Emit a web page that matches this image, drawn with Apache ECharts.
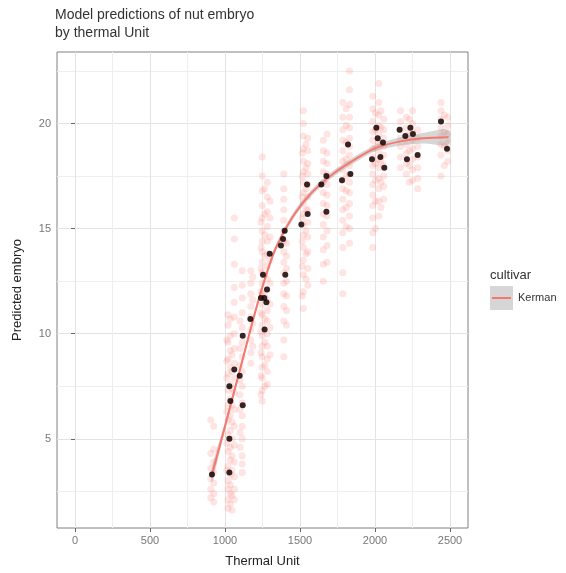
<!DOCTYPE html>
<html>
<head>
<meta charset="utf-8">
<script src="https://cdn.jsdelivr.net/npm/echarts@6/dist/echarts.min.js"></script>
<style>
  html, body { margin: 0; padding: 0; background: #fff; }
  #chart { width: 566px; height: 573px; }
</style>
</head>
<body>
<div id="chart"></div>
<script>
// tick labels
const xTicks = [0, 500, 1000, 1500, 2000, 2500]
const xMinor = [250, 750, 1250, 1750, 2250]
const yTicks = [5, 10, 15, 20]
const yMinor = [2.5, 7.5, 12.5, 17.5, 22.5]

// predicted embryo (pink points), one column per thermal unit sample
const predThermal = [905, 925, 1012, 1020, 1035, 1047, 1062, 1100, 1115, 1172, 1185, 1240, 1248, 1265,
  1282, 1300, 1392, 1410, 1515, 1522, 1540, 1552, 1655, 1680, 1785, 1808, 1830, 1985, 2003, 2025,
  2040, 2058, 2170, 2210, 2230, 2250, 2285, 2440, 2462, 2485]
const predEmbryo = [
  [2.2, 2.6, 3.1, 3.6, 4.3, 5.9],
  [2.0, 2.4, 2.9, 3.4, 3.9, 4.5, 5.6],
  [3.5, 4.8, 6.3, 7.9, 8.7, 9.7],
  [1.7, 2.1, 2.6, 3.0, 3.7, 4.4, 5.2, 5.9, 6.6, 7.3, 8.1, 8.8, 9.6, 10.4, 10.9],
  [1.9, 2.4, 2.8, 3.3, 4.0, 4.6, 5.4, 6.1, 6.9, 7.6, 8.4, 9.2, 9.9, 10.7],
  [1.6, 2.3, 3.5, 4.2, 5.0, 5.8, 6.6, 7.4, 8.2, 9.0],
  [2.1, 2.6, 3.2, 3.9, 4.7, 5.6, 6.4, 7.2, 7.9, 8.6, 9.3, 10.0, 10.8, 11.5, 12.2, 13.3, 14.5, 15.5],
  [4.6, 5.3, 6.4, 7.1, 7.8, 8.5, 9.3, 10.6],
  [3.4, 3.8, 4.2, 5.0, 5.6, 6.1, 6.7, 7.5, 8.2, 8.9, 9.6, 10.3, 11.0, 11.7, 12.3, 13.0],
  [8.6, 9.1, 9.7, 10.2, 10.8, 11.3, 11.9, 12.4, 13.0],
  [9.4, 10.5, 11.6, 12.7],
  [7.1, 8.0, 9.1, 10.1, 11.0, 12.0, 13.1, 14.1, 15.3],
  [6.8, 7.3, 7.9, 8.4, 8.9, 9.4, 9.9, 10.4, 10.9, 11.4, 11.9, 12.4, 12.9, 13.4, 13.9, 14.4, 14.9, 15.5, 16.1, 16.8, 17.5, 18.4],
  [7.5, 8.5, 9.6, 10.7, 11.8, 12.8, 13.7, 14.7, 15.7, 16.9],
  [7.6, 8.2, 8.8, 9.4, 10.0, 10.6, 11.1, 11.6, 12.1, 12.6, 13.2, 13.8, 14.4, 15.1, 15.8, 16.5, 17.2],
  [9.0, 10.3, 11.4, 12.4, 13.5, 14.6, 15.5, 16.3],
  [8.9, 9.7, 10.6, 11.3, 11.9, 12.4, 12.9, 13.4, 13.9, 14.4, 14.9, 15.4, 15.9, 16.4, 16.9, 17.6],
  [10.4, 11.1, 11.8, 12.5, 13.1, 13.7, 14.3],
  [11.8, 13.2, 14.4, 15.5, 16.5, 17.5, 18.6],
  [11.2, 12.0, 12.8, 13.5, 14.1, 14.7, 15.2, 15.7, 16.2, 16.7, 17.2, 17.7, 18.2, 18.8, 19.4, 20.0, 20.6],
  [12.6, 13.8, 14.9, 15.9, 16.9, 17.9, 19.0],
  [12.3, 13.1, 13.9, 14.6, 15.3, 15.9, 16.5, 17.1, 17.6, 18.1, 18.7, 19.3],
  [12.5, 13.3, 14.0, 14.6, 15.2, 15.7, 16.2, 16.7, 17.2, 17.7, 18.2, 18.7, 19.2],
  [13.4, 14.2, 14.9, 15.6, 16.1, 16.6, 17.1, 17.6, 18.1, 18.6, 19.5],
  [11.9, 12.9, 14.1, 14.8, 15.4, 15.9, 16.4, 16.9, 17.3, 17.8, 18.2, 18.7, 19.2, 19.7, 20.3, 21.0],
  [15.1, 16.0, 16.8, 17.5, 18.3, 19.1, 19.9, 20.7],
  [14.3, 15.0, 15.6, 16.2, 16.7, 17.2, 17.6, 18.0, 18.5, 18.9, 19.3, 19.8, 20.3, 20.9, 21.6, 22.5],
  [14.1, 14.8, 15.5, 16.1, 16.6, 17.1, 17.6, 18.0, 18.4, 18.8, 19.2, 19.6, 20.1, 20.7, 21.3],
  [15.0, 16.3, 17.3, 18.1, 18.9, 19.7, 20.5],
  [15.6, 16.3, 16.9, 17.4, 17.9, 18.3, 18.7, 19.1, 19.5, 19.9, 20.4, 21.0, 21.9],
  [16.0, 17.2, 18.2, 19.0, 19.8, 20.6],
  [16.4, 17.0, 17.5, 18.0, 18.5, 18.9, 19.3, 19.7, 20.2],
  [17.9, 18.4, 18.9, 19.3, 19.7, 20.1, 20.6],
  [17.6, 18.1, 18.6, 19.0, 19.4, 19.8, 20.3],
  [17.2, 18.0, 18.7, 19.5, 20.2],
  [17.3, 17.8, 18.3, 18.8, 19.2, 19.6, 20.0, 20.6],
  [16.9, 17.4, 17.9, 18.4, 18.9, 19.3, 19.7],
  [17.5, 18.5, 19.0, 19.4, 19.8, 20.2, 20.6, 21.0],
  [18.0, 18.9, 19.6, 20.4],
  [18.2, 18.7, 19.1, 19.5, 19.9, 20.3]
]

// observed embryo (black points)
const obsThermal = [913, 1029, 1029, 1036, 1029, 1062, 1098, 1118, 1118, 1169, 1253, 1298, 1240,
  1262, 1276, 1280, 1264, 1402, 1373, 1387, 1398, 1509, 1551, 1547, 1676, 1642, 1676, 1780,
  1836, 1820, 1980, 2009, 2018, 2053, 2036, 2062, 2164, 2202, 2236, 2253, 2213, 2284, 2440, 2480]
const obsEmbryo = [3.3, 3.4, 5.0, 6.8, 7.5, 8.3, 8.0, 6.6, 9.9, 10.7, 12.8, 13.8, 11.7,
  11.7, 11.5, 12.1, 10.2, 12.8, 14.2, 14.5, 14.9, 15.2, 15.7, 17.1, 15.8, 17.1, 17.5, 17.3,
  17.6, 19.0, 18.3, 19.8, 19.3, 19.1, 18.4, 17.9, 19.7, 19.4, 19.8, 19.5, 18.3, 18.5, 20.1, 18.8]

// smooth fit and its confidence band
const fitThermal = [913, 1000, 1100, 1200, 1270, 1340, 1450, 1570, 1720, 1880, 2010, 2170, 2320, 2490]
const fitEmbryo = [3.3, 5.6, 8.3, 11.0, 12.7, 14.1, 15.55, 16.65, 17.6, 18.35, 18.85, 19.15, 19.3, 19.35]
const ciLow = [2.95, 5.4, 8.15, 10.85, 12.55, 13.95, 15.4, 16.5, 17.45, 18.2, 18.7, 18.95, 19.05, 19.0]
const ciHigh = [3.65, 5.8, 8.45, 11.15, 12.85, 14.25, 15.7, 16.8, 17.75, 18.5, 19.0, 19.35, 19.55, 19.7]

const pinkPts = []
predThermal.forEach((x, i) => predEmbryo[i].forEach(y => pinkPts.push([x, y])))
const blackPts = obsThermal.map((x, i) => [x, obsEmbryo[i]])
const fitPts = fitThermal.map((x, i) => [x, fitEmbryo[i]])
const bandRows = fitThermal.map((x, i) => [x, ciLow[i], ciHigh[i]])

const FONT = 'Liberation Sans, Arial, sans-serif'
const SALMON = '#F8766D'

function renderBand(params, api) {
  if (params.dataIndex !== 0) return
  const upper = bandRows.map(r => api.coord([r[0], r[2]]))
  const lower = bandRows.map(r => api.coord([r[0], r[1]])).reverse()
  return {
    type: 'polygon',
    shape: { points: upper.concat(lower), smooth: 0.3 },
    style: { fill: 'rgba(153,153,153,0.4)' },
    silent: true
  }
}

const chart = echarts.init(document.getElementById('chart'))
chart.setOption({
  animation: false,
  backgroundColor: '#fff',
  textStyle: { fontFamily: FONT },
  title: {
    text: 'Model predictions of nut embryo\nby thermal Unit',
    left: 55, top: 6, padding: 0,
    textStyle: { fontFamily: FONT, fontSize: 14, fontWeight: 'normal', color: '#333', lineHeight: 18 }
  },
  grid: {
    left: 57, right: 98, top: 52, bottom: 45,
    show: true, borderColor: '#808080', borderWidth: 1, backgroundColor: '#fff'
  },
  legend: {
    left: 490, top: 286, orient: 'vertical', padding: 0,
    itemWidth: 23, itemHeight: 24, itemGap: 0,
    textStyle: { fontFamily: FONT, fontSize: 11, color: '#333' },
    data: [{ name: 'Kerman', icon: 'rect', itemStyle: { color: '#d6d6d6' } }]
  },
  graphic: [
    { type: 'text', left: 490, top: 269, style: { text: 'cultivar', font: '13px ' + FONT, fill: '#333' } },
    { type: 'line', shape: { x1: 492, y1: 298, x2: 511, y2: 298 }, style: { stroke: SALMON, lineWidth: 2 }, z: 100 }
  ],
  xAxis: [{
    type: 'value', min: -120, max: 2620,
    name: 'Thermal Unit', nameLocation: 'middle', nameGap: 27,
    nameTextStyle: { fontFamily: FONT, fontSize: 13, color: '#222' },
    axisLine: { show: false },
    axisTick: { show: true, length: 4, lineStyle: { color: '#666' }, customValues: xTicks },
    axisLabel: { color: '#777', fontSize: 11, margin: 7, customValues: xTicks, formatter: v => String(v) },
    splitLine: { show: true, lineStyle: { color: '#e3e3e3', width: 1 } }
  }, {
    type: 'value', min: -120, max: 2620, position: 'bottom',
    axisLine: { show: false },
    axisTick: { show: false, customValues: xMinor },
    axisLabel: { show: false, customValues: xMinor },
    splitLine: { show: true, lineStyle: { color: '#eeeeee', width: 1 } }
  }],
  yAxis: [{
    type: 'value', min: 0.76, max: 23.4,
    name: 'Predicted embryo', nameLocation: 'middle', nameGap: 33,
    nameTextStyle: { fontFamily: FONT, fontSize: 13, color: '#222' },
    axisLine: { show: false },
    axisTick: { show: true, length: 4, lineStyle: { color: '#666' }, customValues: yTicks },
    axisLabel: { color: '#777', fontSize: 11, margin: 6, customValues: yTicks, formatter: v => String(v) },
    splitLine: { show: true, lineStyle: { color: '#e3e3e3', width: 1 } }
  }, {
    type: 'value', min: 0.76, max: 23.4, position: 'left',
    axisLine: { show: false },
    axisTick: { show: false, customValues: yMinor },
    axisLabel: { show: false, customValues: yMinor },
    splitLine: { show: true, lineStyle: { color: '#eeeeee', width: 1 } }
  }],
  series: [
    {
      name: 'predicted', type: 'scatter', data: pinkPts, symbolSize: 7, silent: true,
      itemStyle: { color: SALMON, opacity: 0.2 }, z: 2
    },
    {
      name: 'ci', type: 'custom', data: bandRows, renderItem: renderBand,
      encode: { x: 0, y: [1, 2] }, silent: true, z: 3
    },
    {
      name: 'Kerman', type: 'line', data: fitPts, smooth: 0.3, symbol: 'none',
      lineStyle: { color: SALMON, width: 2 }, itemStyle: { color: SALMON }, z: 4
    },
    {
      name: 'observed', type: 'scatter', data: blackPts, symbolSize: 6,
      itemStyle: { color: '#1a0808', opacity: 0.88 }, z: 5
    }
  ]
})
</script>
</body>
</html>
